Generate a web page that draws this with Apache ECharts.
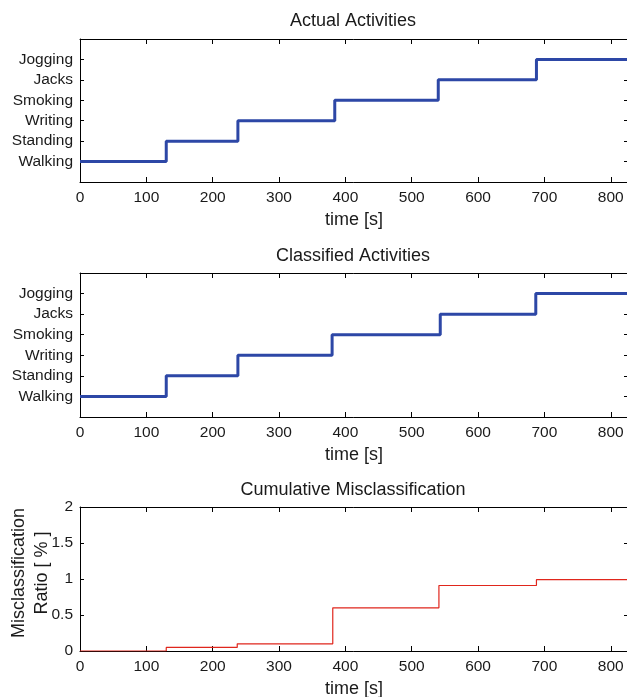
<!DOCTYPE html>
<html>
<head>
<meta charset="utf-8">
<script src="https://cdn.jsdelivr.net/npm/echarts@6/dist/echarts.min.js"></script>
<style>
  html, body { margin: 0; padding: 0; background: #fff; }
  #chart { width: 627px; height: 697px; }
</style>
</head>
<body>
<div id="chart"></div>
<script>
// Activity classes, bottom to top on the activity axes
const activities = ['Walking', 'Standing', 'Writing', 'Smoking', 'Jacks', 'Jogging'];

// Actual activity sequence: time [s] at which each activity starts
const actualTimes = [0, 130, 238, 384, 540, 688, 826];
const actualActs = ['Walking', 'Standing', 'Writing', 'Smoking', 'Jacks', 'Jogging', 'Jogging'];

// Classifier output sequence
const classifiedTimes = [0, 130, 238, 380, 543, 687, 826];
const classifiedActs = ['Walking', 'Standing', 'Writing', 'Smoking', 'Jacks', 'Jogging', 'Jogging'];

// Cumulative misclassification ratio [%]
const misTimes = [0, 130, 237, 381, 541, 688, 826];
const misRatio = [0, 0.05, 0.1, 0.6, 0.91, 0.99, 0.99];

const timeTicks = [0, 100, 200, 300, 400, 500, 600, 700, 800];
const ratioTicks = [0, 0.5, 1, 1.5, 2];

const FONT = '"Liberation Sans", Helvetica, Arial, sans-serif';
const TXT = '#1a1a1a';
const TMAX = 826;

const grids = [
  { left: 80, top: 39, width: 548, height: 143 },
  { left: 80, top: 273, width: 548, height: 144 },
  { left: 80, top: 507, width: 548, height: 144 }
].map(g => Object.assign(g, { containLabel: false, outerBoundsMode: 'none' }));

function timeAxis(g, top) {
  return {
    type: 'value', gridIndex: g, min: 0, max: TMAX, interval: 100,
    position: top ? 'top' : 'bottom',
    axisLine: { show: true, onZero: false, lineStyle: { color: '#000', width: 1 } },
    axisTick: { show: true, inside: true, length: 5, lineStyle: { color: '#000' } },
    splitLine: { show: false },
    axisLabel: top ? { show: false } : {
      show: true, margin: 8, color: TXT, fontFamily: FONT, fontSize: 15.5,
      formatter: v => timeTicks.includes(v) ? String(v) : ''
    },
    name: top ? '' : 'time [s]',
    nameLocation: 'middle', nameGap: 29, nameMoveOverlap: false,
    nameTextStyle: { color: TXT, fontFamily: FONT, fontSize: 18 }
  };
}

function activityAxis(g, right) {
  return {
    type: 'value', gridIndex: g, min: 0, max: 7, interval: 1,
    position: right ? 'right' : 'left',
    axisLine: { show: true, onZero: false, lineStyle: { color: '#000', width: 1 } },
    axisTick: { show: true, inside: true, length: 4, lineStyle: { color: '#000' } },
    splitLine: { show: false },
    axisLabel: right ? { show: false } : {
      show: true, margin: 7, color: TXT, fontFamily: FONT, fontSize: 15.5,
      formatter: v => (v >= 1 && v <= activities.length) ? activities[v - 1] : ''
    }
  };
}

function ratioAxis(g, right) {
  return {
    type: 'value', gridIndex: g, min: 0, max: 2, interval: 0.5,
    position: right ? 'right' : 'left',
    axisLine: { show: true, onZero: false, lineStyle: { color: '#000', width: 1 } },
    axisTick: { show: true, inside: true, length: 4, lineStyle: { color: '#000' } },
    splitLine: { show: false },
    axisLabel: right ? { show: false } : {
      show: true, margin: 7, color: TXT, fontFamily: FONT, fontSize: 15.5,
      formatter: v => ratioTicks.includes(v) ? String(v) : ''
    },
    name: right ? '' : 'Misclassification\nRatio [ % ]',
    nameLocation: 'middle', nameGap: 26, nameMoveOverlap: false,
    nameTextStyle: { color: TXT, fontFamily: FONT, fontSize: 18, lineHeight: 23, padding: [0, 0, 0, 12] }
  };
}

const pairs = (xs, ys) => xs.map((x, i) => [x, ys[i]]);
const actIdx = a => activities.indexOf(a) + 1;

const option = {
  animation: false,
  backgroundColor: '#fff',
  title: [
    { text: 'Actual Activities', left: 353, top: 12, textAlign: 'center' },
    { text: 'Classified Activities', left: 353, top: 247, textAlign: 'center' },
    { text: 'Cumulative Misclassification', left: 353, top: 481, textAlign: 'center' }
  ].map(t => Object.assign(t, {
    padding: 0,
    textStyle: { color: TXT, fontFamily: FONT, fontSize: 18, fontWeight: 'normal' }
  })),
  grid: grids,
  xAxis: [timeAxis(0, false), timeAxis(0, true), timeAxis(1, false), timeAxis(1, true), timeAxis(2, false), timeAxis(2, true)],
  yAxis: [activityAxis(0, false), activityAxis(0, true), activityAxis(1, false), activityAxis(1, true), ratioAxis(2, false), ratioAxis(2, true)],
  series: [
    {
      type: 'line', xAxisIndex: 0, yAxisIndex: 0, step: 'end', symbol: 'none',
      lineStyle: { color: '#2d47a6', width: 3 },
      data: pairs(actualTimes, actualActs.map(actIdx))
    },
    {
      type: 'line', xAxisIndex: 2, yAxisIndex: 2, step: 'end', symbol: 'none',
      lineStyle: { color: '#2d47a6', width: 3 },
      data: pairs(classifiedTimes, classifiedActs.map(actIdx))
    },
    {
      type: 'line', xAxisIndex: 4, yAxisIndex: 4, step: 'end', symbol: 'none',
      lineStyle: { color: '#e0261c', width: 1.2 },
      data: pairs(misTimes, misRatio)
    }
  ]
};

const chart = echarts.init(document.getElementById('chart'), null, { renderer: 'canvas' });
chart.setOption(option);
</script>
</body>
</html>
